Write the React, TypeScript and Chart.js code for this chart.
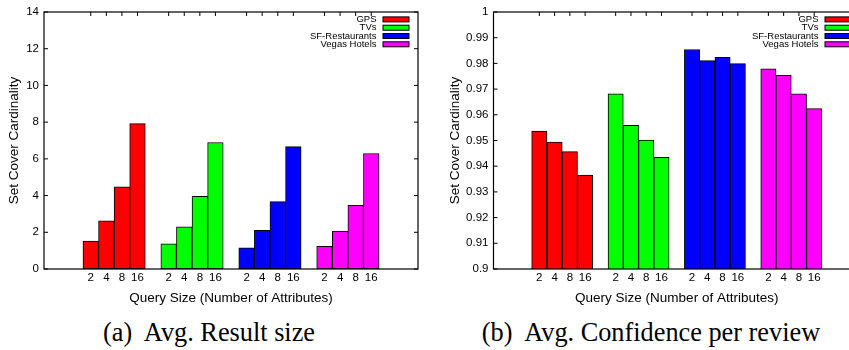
import React, { useEffect, useRef } from "react";
import { Chart, registerables } from "chart.js";

Chart.register(...registerables);
Chart.defaults.font.family = "'Liberation Sans', Arial, Helvetica, sans-serif";
Chart.defaults.color = "#000";

// ---------- data ----------
const querySizes = ["2", "4", "8", "16"];
const seriesNames = ["GPS", "TVs", "SF-Restaurants", "Vegas Hotels"];
const seriesColors = ["#ff0000", "#00ff00", "#0000ff", "#ff00ff"];

const resultSizeGPS = [1.52, 2.63, 4.48, 7.92];
const resultSizeTVs = [1.37, 2.3, 3.96, 6.89];
const resultSizeSF = [1.16, 2.1, 3.67, 6.67];
const resultSizeVegas = [1.23, 2.06, 3.47, 6.29];

const confidenceGPS = [0.9537, 0.9494, 0.9457, 0.9365];
const confidenceTVs = [0.9682, 0.9559, 0.9502, 0.9435];
const confidenceSF = [0.9854, 0.9811, 0.9824, 0.9799];
const confidenceVegas = [0.9779, 0.9754, 0.9682, 0.9624];

const yTitle = "Set Cover Cardinality";
const xTitle = "Query Size (Number of Attributes)";
const captionA = "(a)  Avg. Result size";
const captionB = "(b)  Avg. Confidence per review";

// ---------- category layout (empty slots around / between groups) ----------
const LEAD = 3;
const GAP = 1;
const TRAIL = 3;

function buildLabels(): string[] {
  const labels: string[] = [];
  for (let i = 0; i < LEAD; i++) labels.push("");
  seriesNames.forEach((_, g) => {
    if (g > 0) for (let i = 0; i < GAP; i++) labels.push("");
    querySizes.forEach((q) => labels.push(q));
  });
  for (let i = 0; i < TRAIL; i++) labels.push("");
  return labels;
}

function buildDatasets(values: number[][]) {
  const labels = buildLabels();
  return values.map((vals, g) => {
    const data: (number | null)[] = labels.map(() => null);
    const start = LEAD + g * (querySizes.length + GAP);
    vals.forEach((v, j) => (data[start + j] = v));
    return {
      label: seriesNames[g],
      data,
      backgroundColor: seriesColors[g],
      borderColor: "#000",
      borderWidth: 1,
      borderSkipped: false,
      grouped: false,
      barPercentage: 1,
      categoryPercentage: 1,
    };
  });
}

// ---------- gnuplot-like frame, inward ticks, inside legend ----------
const gnuplotPlugin = {
  id: "gnuplotFrame",
  beforeDatasetsDraw(chart: any) {
    const { ctx, chartArea: a, scales } = chart;
    const tl = 4;
    ctx.save();
    ctx.strokeStyle = "#000";
    ctx.lineWidth = 1;
    ctx.beginPath();
    const xs = scales.x;
    const labels: string[] = chart.data.labels;
    labels.forEach((l, i) => {
      if (l === "") return;
      const px = xs.getPixelForValue(i);
      ctx.moveTo(px, a.bottom);
      ctx.lineTo(px, a.bottom - tl);
      ctx.moveTo(px, a.top);
      ctx.lineTo(px, a.top + tl);
    });
    const ys = scales.y;
    ys.ticks.forEach((t: any) => {
      const py = ys.getPixelForValue(t.value);
      ctx.moveTo(a.left, py);
      ctx.lineTo(a.left + tl, py);
      ctx.moveTo(a.right, py);
      ctx.lineTo(a.right - tl, py);
    });
    ctx.stroke();
    ctx.restore();
  },
  afterDatasetsDraw(chart: any) {
    const { ctx, chartArea: a } = chart;
    ctx.save();
    ctx.strokeStyle = "#000";
    ctx.lineWidth = 1.2;
    ctx.strokeRect(a.left, a.top, a.right - a.left, a.bottom - a.top);

    // legend
    const boxW = 26;
    const boxH = 5;
    const boxRight = a.right - 9;
    const boxLeft = boxRight - boxW;
    const firstY = a.top + 7.4;
    const step = 8.3;
    ctx.font = "9.5px 'Liberation Sans', Arial, sans-serif";
    ctx.textAlign = "right";
    ctx.textBaseline = "middle";
    chart.data.datasets.forEach((ds: any, i: number) => {
      const cy = firstY + i * step;
      ctx.fillStyle = "#000";
      ctx.fillText(ds.label, boxLeft - 6.5, cy);
      ctx.fillStyle = ds.backgroundColor;
      ctx.fillRect(boxLeft, cy - boxH / 2, boxW, boxH);
      ctx.lineWidth = 1;
      ctx.strokeRect(boxLeft, cy - boxH / 2, boxW, boxH);
    });
    ctx.restore();
  },
};

type PanelProps = {
  values: number[][];
  yMin: number;
  yMax: number;
  yStep: number;
  left: number;
  width: number;
  plotRight: number;
  yAxisWidth: number;
  titlePad: number;
  fmt: (v: number) => string;
};

const CANVAS_H = 310;
const PLOT_TOP = 12;
const X_AXIS_H = 41;

function BarPanel(p: PanelProps) {
  const ref = useRef<HTMLCanvasElement | null>(null);
  useEffect(() => {
    if (!ref.current) return;
    const chart = new Chart(ref.current, {
      type: "bar",
      data: { labels: buildLabels(), datasets: buildDatasets(p.values) as any },
      options: {
        animation: false,
        responsive: false,
        maintainAspectRatio: false,
        layout: { padding: { left: 0, right: p.width - p.plotRight, top: PLOT_TOP, bottom: 0 } },
        plugins: { legend: { display: false }, tooltip: { enabled: false } },
        scales: {
          x: {
            type: "category",
            offset: false,
            grid: { display: false, drawTicks: false },
            border: { display: false },
            ticks: {
              autoSkip: false,
              maxRotation: 0,
              minRotation: 0,
              font: { size: 11.5 },
              color: "#000",
              padding: 1.6,
            },
            title: {
              display: true,
              text: xTitle,
              font: { size: 13.5 },
              color: "#000",
              padding: { top: 0, bottom: 3.4 },
            },
            afterFit: (s: any) => {
              s.height = X_AXIS_H;
            },
          },
          y: {
            min: p.yMin,
            max: p.yMax,
            grid: { display: false, drawTicks: false },
            border: { display: false },
            ticks: {
              stepSize: p.yStep,
              font: { size: 11.5 },
              color: "#000",
              padding: 5,
              callback: (v: any) => p.fmt(Number(v)),
            },
            title: {
              display: true,
              text: yTitle,
              font: { size: 13.5 },
              color: "#000",
              padding: { top: p.titlePad, bottom: 0 },
            },
            afterFit: (s: any) => {
              s.width = p.yAxisWidth;
            },
          },
        },
      },
      plugins: [gnuplotPlugin],
    } as any);
    return () => chart.destroy();
  }, []);
  return (
    <canvas
      ref={ref}
      width={p.width}
      height={CANVAS_H}
      style={{ position: "absolute", left: p.left, top: 0, width: p.width, height: CANVAS_H }}
    />
  );
}

const captionStyle = (center: number): React.CSSProperties => ({
  position: "absolute",
  left: center - 250,
  width: 500,
  top: 320,
  textAlign: "center",
  fontFamily: "'Liberation Serif', 'Times New Roman', serif",
  fontSize: 26.3,
  lineHeight: 1,
  whiteSpace: "pre",
  color: "#000",
});

export default function App() {
  return (
    <div
      style={{
        position: "fixed",
        left: 0,
        top: 0,
        width: 849,
        height: 350,
        overflow: "hidden",
        background: "#fff",
      }}
    >
      <BarPanel
        values={[resultSizeGPS, resultSizeTVs, resultSizeSF, resultSizeVegas]}
        yMin={0}
        yMax={14}
        yStep={2}
        left={0}
        width={425}
        plotRight={418}
        yAxisWidth={44}
        titlePad={6.4}
        fmt={(v) => String(v)}
      />
      <BarPanel
        values={[confidenceGPS, confidenceTVs, confidenceSF, confidenceVegas]}
        yMin={0.9}
        yMax={1}
        yStep={0.01}
        left={425}
        width={445}
        plotRight={435}
        yAxisWidth={68.5}
        titlePad={21.9}
        fmt={(v) => String(Number(v.toFixed(2)))}
      />
      <div style={captionStyle(209)}>{captionA}</div>
      <div style={captionStyle(651)}>{captionB}</div>
    </div>
  );
}
